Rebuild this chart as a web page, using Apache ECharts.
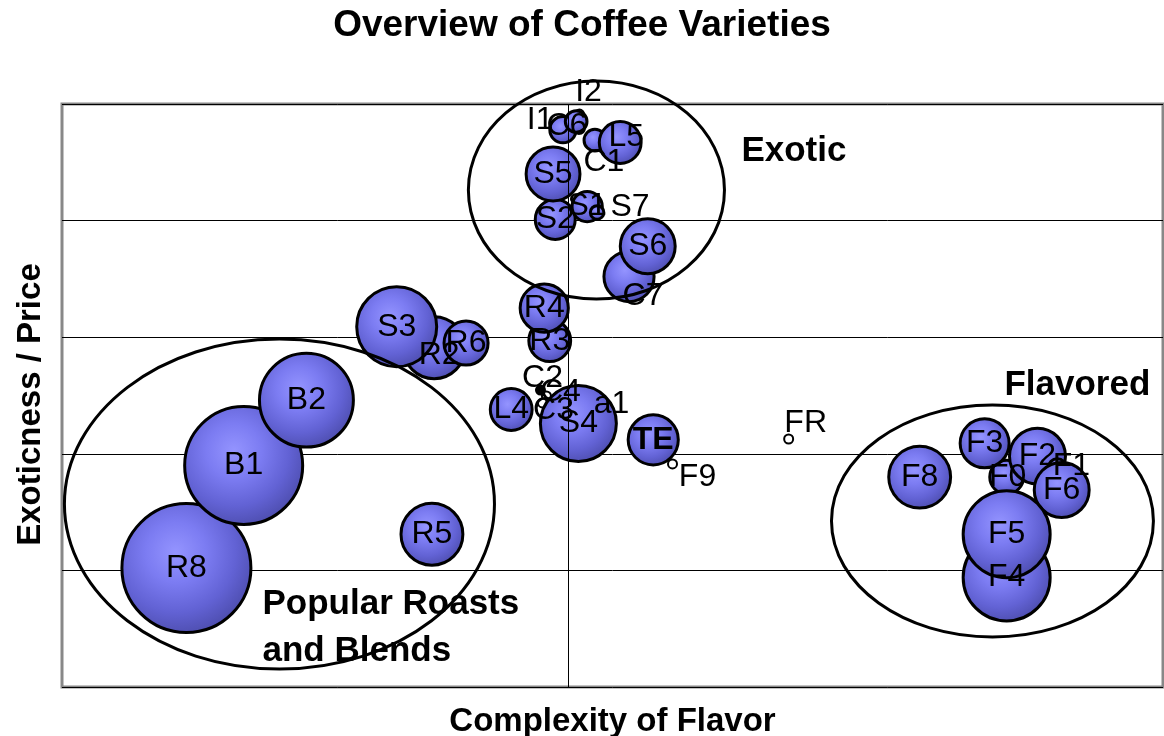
<!DOCTYPE html>
<html>
<head>
<meta charset="utf-8">
<title>Overview of Coffee Varieties</title>
<script src="https://cdn.jsdelivr.net/npm/echarts@6/dist/echarts.min.js"></script>
<style>
    html, body { margin: 0; padding: 0; background: #fff; }
    #chart { width: 1164px; height: 736px; }
</style>
</head>
<body>
<div id="chart"></div>
<script>
// coffee varieties, in drawing order (later ones sit on top)
const names  = ['R8', 'B1', 'B2', 'R5', 'R2', 'S3', 'R6', 'R3', 'R4', 'C2', 'C4', 'C3', 'L4', 'a1', 'S4', 'TE', 'F9', 'FR',
                'I2', 'C6', 'I1', 'C1', 'L5', 'S2', 'S5', 'S1', 'S7', 'C7', 'S6', 'F8', 'F0', 'F3', 'F2', 'F1', 'F6', 'F4', 'F5'];
const flavor = [-3.47, -2.95, -2.38, -1.24, -1.22, -1.56, -0.93, -0.17, -0.22, -0.254, -0.20, -0.236, -0.52, 0.254, 0.09, 0.77, 0.945, 2.0,
                0.10, -0.05, 0.07, 0.24, 0.47, -0.12, -0.14, 0.17, 0.26, 0.55, 0.72, 3.19, 3.98, 3.78, 4.26, 4.44, 4.48, 3.98, 3.98];
const exotic = [1.02, 1.90, 2.46, 1.31, 2.91, 3.09, 2.95, 2.97, 3.25, 2.547, 2.496, 2.436, 2.38, 2.393, 2.26, 2.12, 1.913, 2.127,
                4.914, 4.78, 4.85, 4.69, 4.67, 4.01, 4.40, 4.12, 4.07, 3.52, 3.78, 1.80, 1.80, 2.09, 1.98, 1.88, 1.69, 0.94, 1.31];
const volume = [42.9, 36.0, 23.0, 10.2, 10.2, 16.8, 5.3, 4.8, 6.3, 0.15, 0.2, 0.2, 4.8, 0.2, 15.2, 6.8, 0.2, 0.2,
                0.2, 2.0, 1.4, 1.4, 4.8, 4.4, 7.8, 2.6, 0.6, 6.8, 8.1, 10.2, 3.2, 6.5, 8.4, 1.0, 8.1, 19.8, 19.8];

// circled groups
const groupText = ['Exotic', 'Popular Roasts\nand Blends', 'Flavored'];
const groupCx   = [0.254, -2.625, 3.851];
const groupCy   = [4.262, 1.569, 1.424];
const groupRx   = [1.163, 1.953, 1.462];
const groupRy   = [0.935, 1.415, 0.995];
const groupTx   = [1.571, -2.779, 3.960];
const groupTy   = [4.597, 0.510, 2.590];

// label nudges (pixels) for points whose label is moved off centre
const labelNudge = {
    C2: [2, -12], C4: [14, -4], C3: [11, 7], a1: [15, -4], F9: [25, 13], FR: [17, -16],
    I2: [9, -22], I1: [-36, -1], C6: [4, -3], C1: [9, 22], L5: [6, -5], S7: [33, -5],
    C7: [14, 20], F1: [14, -2], F0: [1, 0], R2: [5, 7]
};

const FONT = '"Liberation Sans", Arial, sans-serif';

const bubbleFill = {
    type: 'radial', x: 0.42, y: 0.38, r: 0.65,
    colorStops: [
        { offset: 0, color: '#9494ff' },
        { offset: 0.35, color: '#7c7cf2' },
        { offset: 0.7, color: '#6262d4' },
        { offset: 1, color: '#4c4cac' }
    ]
};

const points = names.map((n, i) => {
    const tiny = volume[i] < 0.5;
    return {
        name: n,
        value: [flavor[i], exotic[i], volume[i]],
        itemStyle: {
            color: n === 'C2' ? '#000' : (tiny ? '#fff' : bubbleFill),
            borderColor: '#000',
            borderWidth: tiny ? 2 : 3,
            opacity: 1
        },
        label: {
            offset: labelNudge[n] || [0, 0],
            fontWeight: n === 'TE' ? 'bold' : 'normal'
        }
    };
});

const option = {
    animation: false,
    backgroundColor: '#fff',
    title: {
        text: 'Overview of Coffee Varieties',
        left: 'center',
        top: 2,
        textStyle: { fontFamily: FONT, fontSize: 37, fontWeight: 'bold', color: '#000' }
    },
    grid: {
        left: 62, right: 1, top: 104, bottom: 49,
        outerBoundsMode: 'none',
        show: true, borderColor: '#888', borderWidth: 3, backgroundColor: '#fff'
    },
    xAxis: {
        type: 'value', min: -4.6, max: 5.4,
        name: 'Complexity of Flavor', nameLocation: 'middle', nameGap: 18,
        nameTextStyle: { fontFamily: FONT, fontSize: 33, fontWeight: 'bold', color: '#000' },
        axisLine: { show: false }, axisTick: { show: false }, axisLabel: { show: false },
        splitLine: { show: false }
    },
    yAxis: {
        type: 'value', min: 0, max: 5, interval: 1,
        name: 'Exoticness / Price', nameLocation: 'middle', nameGap: 15,
        nameTextStyle: { fontFamily: FONT, fontSize: 33, fontWeight: 'bold', color: '#000', padding: [0, 18, 0, 0] },
        axisLine: { show: false }, axisTick: { show: false }, axisLabel: { show: false },
        splitLine: { show: true, lineStyle: { color: '#000', width: 1 } }
    },
    series: [{
        type: 'scatter',
        data: points,
        symbolSize: val => Math.max(Math.sqrt(val[2]) * 20 - 2, 9),
        itemStyle: { opacity: 1 },
        label: {
            show: true,
            position: 'inside',
            formatter: p => p.name,
            fontFamily: FONT, fontSize: 32, color: '#000'
        },
        emphasis: { disabled: true },
        markLine: {
            silent: true, symbol: 'none', label: { show: false },
            lineStyle: { color: '#000', width: 1, type: 'solid', opacity: 1 },
            data: [{ xAxis: 0 }]
        },
        z: 3
    }]
};

const myChart = echarts.init(document.getElementById('chart'));
myChart.setOption(option);

// ellipses and their captions, placed through the axes
function drawGroups() {
    const g = [];
    groupText.forEach((t, i) => {
        const c = myChart.convertToPixel({ gridIndex: 0 }, [groupCx[i], groupCy[i]]);
        const ex = myChart.convertToPixel({ gridIndex: 0 }, [groupCx[i] + groupRx[i], groupCy[i] + groupRy[i]]);
        const tp = myChart.convertToPixel({ gridIndex: 0 }, [groupTx[i], groupTy[i]]);
        g.push({
            type: 'text', x: tp[0], y: tp[1], z: 20,
            style: {
                text: t, fill: '#000', fontFamily: FONT, fontSize: 35, fontWeight: 'bold',
                verticalAlign: 'middle', align: 'left', lineHeight: 47
            }
        });
        g.push({
            type: 'ellipse', z: 30,
            shape: { cx: c[0], cy: c[1], rx: ex[0] - c[0], ry: c[1] - ex[1] },
            style: { fill: 'none', stroke: '#000', lineWidth: 3 }
        });
    });
    myChart.setOption({ graphic: g });
}
drawGroups();

window.addEventListener('resize', () => {
    myChart.resize();
    drawGroups();
});
</script>
</body>
</html>
